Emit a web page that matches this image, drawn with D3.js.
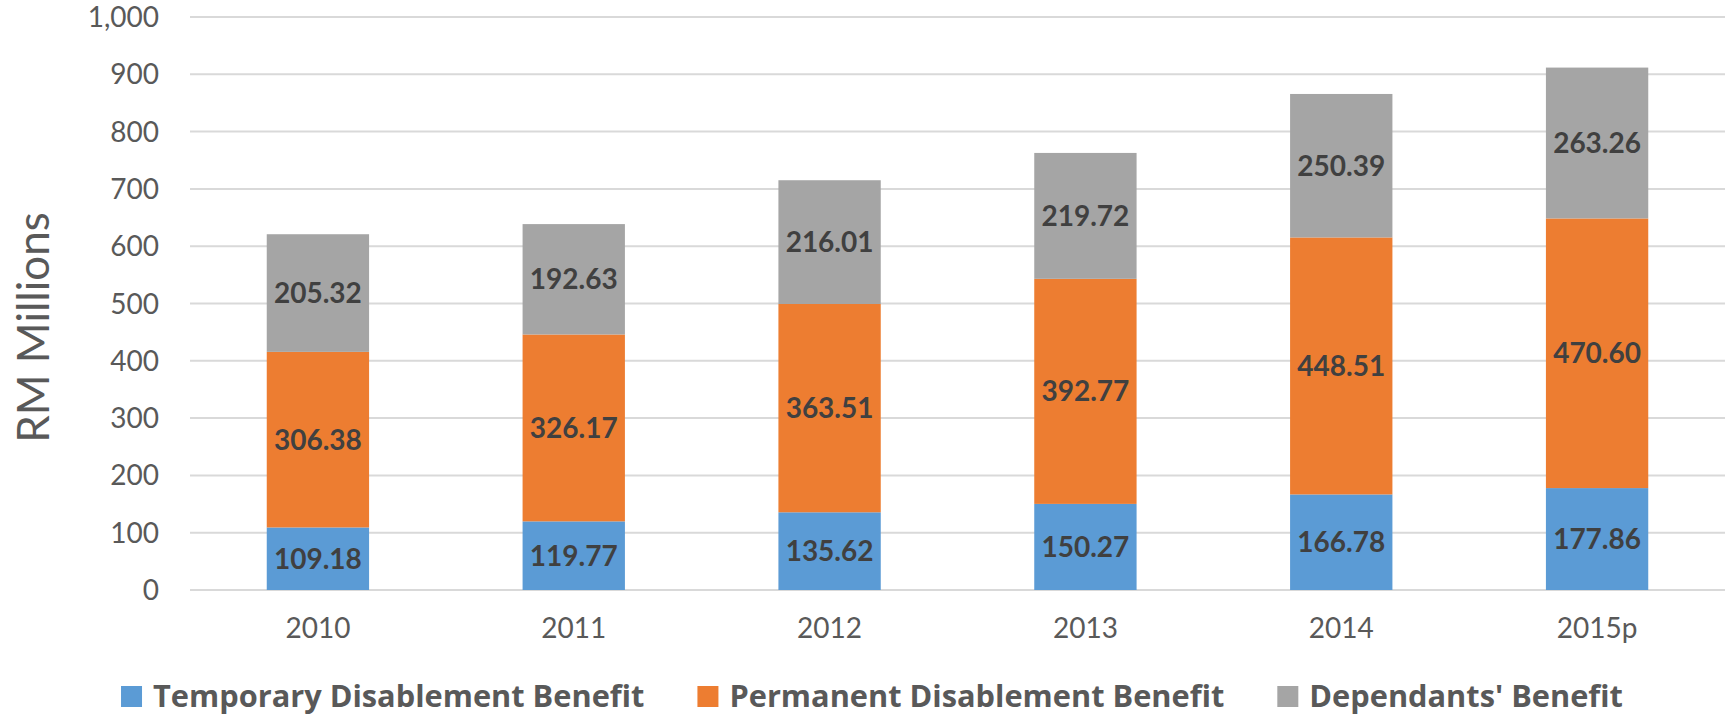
<!DOCTYPE html>
<html>
<head>
<meta charset="utf-8">
<script src="https://cdn.jsdelivr.net/npm/d3@7/dist/d3.min.js"></script>
<style>
  html, body { margin: 0; padding: 0; background: #ffffff; }
  svg { display: block; font-family: Lato, "Open Sans", sans-serif; }
</style>
</head>
<body>
<svg id="chart" width="1730" height="715"></svg>
<script>
// Years on the category axis
const years = ["2010", "2011", "2012", "2013", "2014", "2015p"];

// Benefit paid per year, RM millions
const temporaryDisablement = [109.18, 119.77, 135.62, 150.27, 166.78, 177.86];
const permanentDisablement = [306.38, 326.17, 363.51, 392.77, 448.51, 470.60];
const dependantsBenefit    = [205.32, 192.63, 216.01, 219.72, 250.39, 263.26];

const seriesNames = ["Temporary Disablement Benefit", "Permanent Disablement Benefit", "Dependants' Benefit"];
const seriesColors = ["#5B9BD5", "#ED7D31", "#A5A5A5"];

const yTicks = [0, 100, 200, 300, 400, 500, 600, 700, 800, 900, 1000];
const yMax = 1000;
const yTitle = "RM Millions";

// Build a table for d3.stack
const rows = years.map((y, i) => ({
  year: y,
  s0: temporaryDisablement[i],
  s1: permanentDisablement[i],
  s2: dependantsBenefit[i]
}));
const keys = ["s0", "s1", "s2"];

const svg = d3.select("#chart");
const margin = { left: 190, right: 5, top: 17, bottom: 125 };
const W = 1730, H = 715;
const plotW = W - margin.left - margin.right;
const plotH = H - margin.top - margin.bottom;

const x = d3.scaleBand().domain(years).range([0, plotW]).paddingInner(0.6).paddingOuter(0.3);
const y = d3.scaleLinear().domain([0, yMax]).range([plotH, 0]);

const g = svg.append("g").attr("transform", `translate(${margin.left},${margin.top})`);

// Horizontal gridlines
g.append("g")
  .selectAll("line")
  .data(yTicks)
  .join("line")
  .attr("x1", 0).attr("x2", plotW)
  .attr("y1", d => y(d)).attr("y2", d => y(d))
  .attr("stroke", "#D9D9D9")
  .attr("stroke-width", 2);

// Y axis labels
const yAxis = d3.axisLeft(y).tickValues(yTicks).tickFormat(d3.format(",")).tickSize(0).tickPadding(31);
const yAxisG = g.append("g").call(yAxis);
yAxisG.select(".domain").remove();
yAxisG.selectAll("text")
  .attr("fill", "#595959")
  .attr("dy", "0.34em")
  .style("font-size", "28px")
  .style("font-family", "Lato, 'Open Sans', sans-serif");

// X axis labels
const xAxis = d3.axisBottom(x).tickSize(0).tickPadding(28);
const xAxisG = g.append("g").attr("transform", `translate(0,${plotH})`).call(xAxis);
xAxisG.select(".domain").remove();
xAxisG.selectAll("text")
  .attr("fill", "#595959")
  .style("font-size", "28px")
  .style("font-family", "Lato, 'Open Sans', sans-serif");

// Stacked bars
const stacked = d3.stack().keys(keys)(rows);
const layers = g.append("g")
  .selectAll("g")
  .data(stacked)
  .join("g")
  .attr("fill", (d, i) => seriesColors[i]);

layers.selectAll("rect")
  .data(d => d)
  .join("rect")
  .attr("x", d => x(d.data.year))
  .attr("width", x.bandwidth())
  .attr("y", d => y(d[1]))
  .attr("height", d => y(d[0]) - y(d[1]));

// Value labels centred in each segment
layers.selectAll("text")
  .data(d => d)
  .join("text")
  .attr("x", d => x(d.data.year) + x.bandwidth() / 2)
  .attr("y", d => (y(d[0]) + y(d[1])) / 2)
  .attr("dy", "0.36em")
  .attr("text-anchor", "middle")
  .attr("fill", "#404040")
  .style("font-size", "28px")
  .style("font-weight", "bold")
  .text(d => (d[1] - d[0]).toFixed(2));

// Y axis title
svg.append("text")
  .attr("transform", `translate(49,${margin.top + plotH / 2 + 24}) rotate(-90)`)
  .attr("text-anchor", "middle")
  .attr("fill", "#595959")
  .style("font-size", "44px")
  .text(yTitle);

// Legend
const legend = svg.append("g");
const items = legend.selectAll("g").data(seriesNames).join("g");
items.append("rect")
  .attr("width", 21).attr("height", 21)
  .attr("y", -21)
  .attr("fill", (d, i) => seriesColors[i]);
items.append("text")
  .attr("x", 32)
  .attr("y", 0)
  .attr("fill", "#595959")
  .style("font-family", "'Open Sans', Lato, sans-serif")
  .style("font-size", "30.75px")
  .style("font-weight", "bold")
  .text(d => d);

let cursor = 0;
items.each(function () {
  const item = d3.select(this);
  item.attr("transform", `translate(${cursor},0)`);
  const tw = item.select("text").node().getComputedTextLength();
  cursor += 32 + tw + 53;
});
const legendW = cursor - 53;
legend.attr("transform", `translate(${872 - legendW / 2},707)`);
</script>
</body>
</html>
